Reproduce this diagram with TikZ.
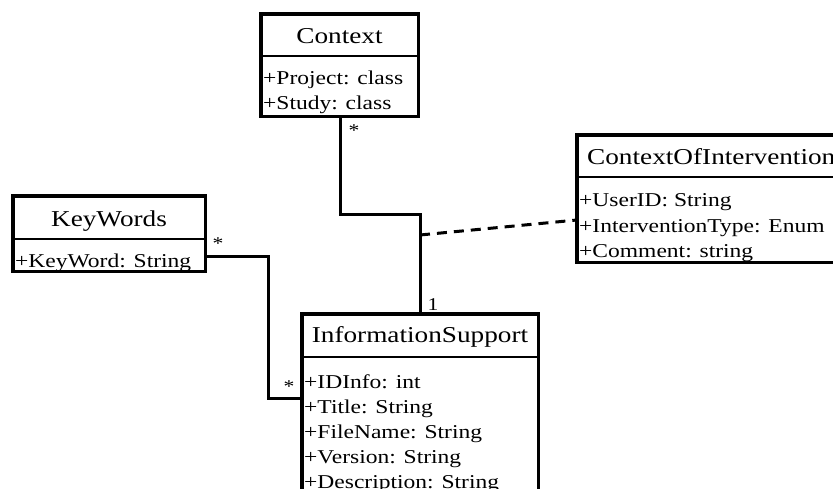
\documentclass[tikz,border=0pt]{standalone}
\usepackage{fontspec}
\setmainfont[FakeStretch=1.2]{Liberation Serif}
\begin{document}
\begin{tikzpicture}[x=1pt,y=-1pt,
  box/.style={inner sep=0pt, anchor=north west},
  border/.style={line width=3.2pt},
  sepline/.style={line width=2.4pt},
  head/.style={font=\fontsize{22.7}{27}\selectfont, inner sep=0pt, anchor=base},
  attr/.style={font=\fontsize{19.6}{24}\selectfont, inner sep=0pt, anchor=base west},
  conn/.style={line width=3pt},
  assoc/.style={line width=3pt, dash pattern=on 10pt off 7pt},
  mult/.style={font=\fontsize{18}{20}\selectfont, inner sep=0pt, anchor=base}]
\clip (0,0) rectangle (833,489);
\fill[white] (0,0) rectangle (833,489);
% boxes (geometry)
\node[box, minimum width=157pt, minimum height=102pt] (ctx) at (261,14) {};
\node[box, minimum width=300pt, minimum height=127pt] (coi) at (577,135) {};
\node[box, minimum width=192pt, minimum height=75pt] (kw) at (13,196) {};
\node[box, minimum width=236pt, minimum height=250pt] (info) at (302,314) {};
% Context
\node[head] (ctxh) at (339.5,44) {Context};
\begin{scope}
\clip (261,56) rectangle (418,116);
\node[attr] (ctxa1) at (263,85) {+Project: class};
\node[attr] (ctxa2) at (263,110) {+Study: class};
\end{scope}
% ContextOfIntervention
\node[head, anchor=base west] (coih) at (587,165) {ContextOfIntervention};
\begin{scope}
\clip (577,177) rectangle (877,262);
\node[attr] (coia1) at (579,207) {+UserID: String};
\node[attr] (coia2) at (579,233) {+InterventionType: Enum};
\node[attr] (coia3) at (579,258) {+Comment: string};
\end{scope}
% KeyWords
\node[head] (kwh) at (109,227) {KeyWords};
\begin{scope}
\clip (13,239) rectangle (205,271);
\node[attr] (kwa1) at (15,268) {+KeyWord: String};
\end{scope}
% InformationSupport
\node[head] (infoh) at (420,342) {InformationSupport};
\node[attr] (infoa1) at (304,388) {+IDInfo: int};
\node[attr] (infoa2) at (304,413) {+Title: String};
\node[attr] (infoa3) at (304,438) {+FileName: String};
\node[attr] (infoa4) at (304,463) {+Version: String};
\node[attr] (infoa5) at (304,488) {+Description: String};
% borders on top
\draw[border] (ctx.north west) rectangle (ctx.south east);
\draw[border] (coi.north west) rectangle (coi.south east);
\draw[border] (kw.north west) rectangle (kw.south east);
\draw[border] (info.north west) rectangle (info.south east);
% separators
\draw[sepline] (ctx.west |- 0,56) -- (ctx.east |- 0,56);
\draw[sepline] (coi.west |- 0,177) -- (coi.east |- 0,177);
\draw[sepline] (kw.west |- 0,239) -- (kw.east |- 0,239);
\draw[sepline] (info.west |- 0,357) -- (info.east |- 0,357);
% connectors
\coordinate (b1) at (340,215);
\coordinate (b2) at (420,215);
\draw[conn] (ctx.south -| b1) -- (b1) -- (b2) -- (b2 |- info.north);
\coordinate (dm) at (420,235);
\draw[assoc] (dm) -- (coi.west |- 0,220);
\coordinate (k1) at (268,257);
\coordinate (k2) at (268,398);
\draw[conn] (kw.east |- k1) -- (k1) -- (k2) -- (info.west |- k2);
% multiplicities
\node[mult] (m1) at (354,137) {*};
\node[mult] (m2) at (218,250) {*};
\node[mult] (m3) at (289,392) {*};
\node[mult] (m4) at (433,310) {1};
\end{tikzpicture}
\end{document}
